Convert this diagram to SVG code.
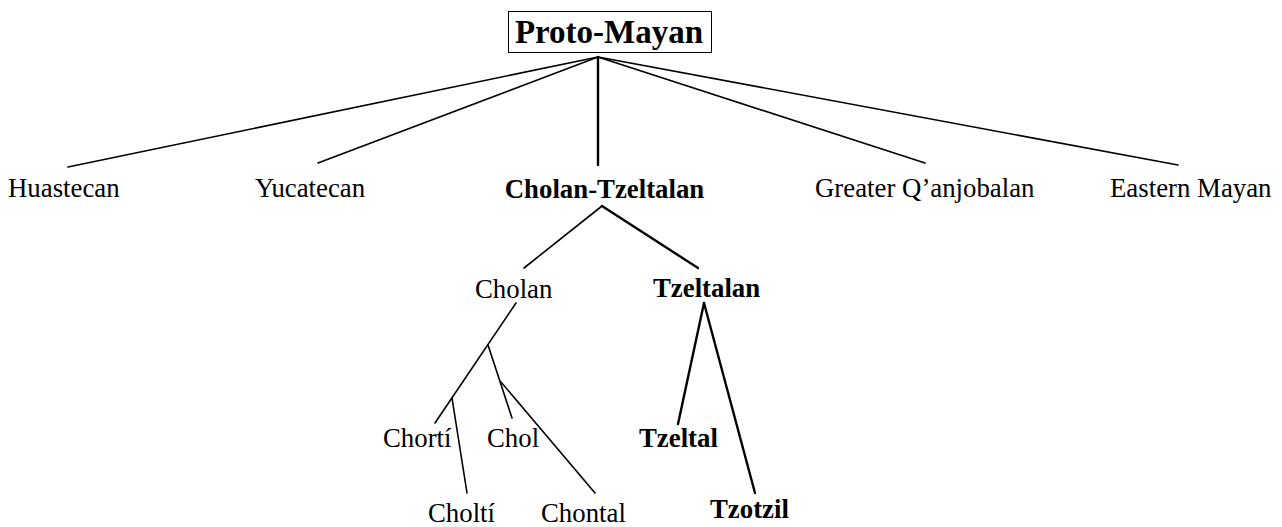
<svg xmlns="http://www.w3.org/2000/svg" width="1282" height="527" viewBox="0 0 1282 527">
<style>
text{font-family:"Liberation Serif","Times New Roman",serif;font-size:26.8px;fill:#000}
.b{font-weight:bold}
.l{stroke:#000;stroke-width:1.6;fill:none;stroke-linecap:round}
.t{stroke:#000;stroke-width:2.4;fill:none;stroke-linecap:round}
</style>
<rect width="1282" height="527" fill="#fff"/>
<g id="connectors">
<line class="l" x1="598" y1="57" x2="68" y2="167"/>
<line class="l" x1="598" y1="57" x2="318" y2="163"/>
<line class="t" x1="598" y1="57" x2="598" y2="165"/>
<line class="l" x1="598" y1="57" x2="925" y2="163"/>
<line class="l" x1="598" y1="57" x2="1178" y2="165"/>
<line class="l" x1="602" y1="206" x2="524" y2="268"/>
<line class="t" x1="602" y1="206" x2="698" y2="268"/>
<line class="t" x1="704" y1="303" x2="678" y2="424"/>
<line class="t" x1="704" y1="303" x2="755" y2="493"/>
<line class="l" x1="516" y1="303" x2="435" y2="423"/>
<line class="l" x1="488" y1="345" x2="512" y2="418"/>
<line class="l" x1="452" y1="398" x2="467" y2="493"/>
<line class="l" x1="501" y1="382" x2="595" y2="493"/>
</g>
<g id="proto-mayan">
<rect x="508.5" y="11.5" width="203" height="41" fill="none" stroke="#000" stroke-width="1"/>
<text class="b" x="609" y="43" text-anchor="middle" style="font-size:33px">Proto-Mayan</text>
</g>
<g id="huastecan"><text x="8" y="197">Huastecan</text></g>
<g id="yucatecan"><text x="255" y="197">Yucatecan</text></g>
<g id="cholan-tzeltalan"><text class="b" x="604.5" y="198" text-anchor="middle">Cholan-Tzeltalan</text></g>
<g id="greater-qanjobalan"><text x="815" y="197">Greater Q’anjobalan</text></g>
<g id="eastern-mayan"><text x="1110" y="197">Eastern Mayan</text></g>
<g id="cholan"><text x="475" y="298">Cholan</text></g>
<g id="tzeltalan"><text class="b" x="653" y="297">Tzeltalan</text></g>
<g id="chorti"><text x="383" y="447">Chortí</text></g>
<g id="chol"><text x="487" y="447">Chol</text></g>
<g id="tzeltal"><text class="b" x="639" y="447">Tzeltal</text></g>
<g id="cholti"><text x="428" y="522">Choltí</text></g>
<g id="chontal"><text x="541" y="522">Chontal</text></g>
<g id="tzotzil"><text class="b" x="710" y="518">Tzotzil</text></g>
</svg>
